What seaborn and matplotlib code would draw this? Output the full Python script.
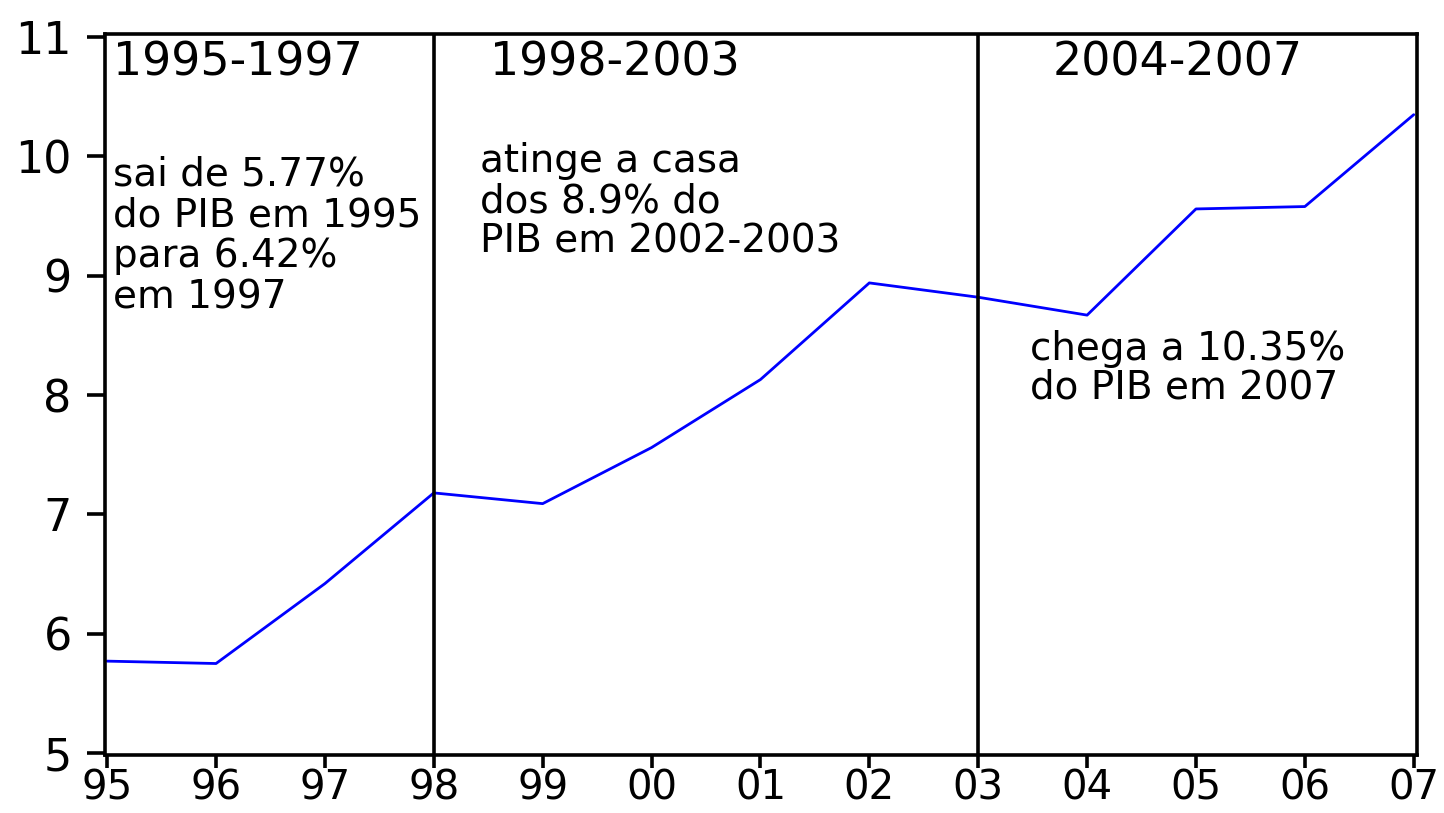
import matplotlib
matplotlib.use("Agg")
import matplotlib.pyplot as plt
import seaborn as sns
import pandas as pd

# ================= DATA =================
YEARS = [1995, 1996, 1997, 1998, 1999, 2000, 2001, 2002, 2003, 2004, 2005, 2006, 2007]
PCT_PIB = [5.77, 5.75, 6.42, 7.18, 7.09, 7.56, 8.13, 8.94, 8.82, 8.67, 9.56, 9.58, 10.35]
X_TICK_LABELS = ["95", "96", "97", "98", "99", "00", "01", "02", "03", "04", "05", "06", "07"]
Y_TICKS = [5, 6, 7, 8, 9, 10, 11]

PERIOD_BREAKS = [1998, 2003]
PERIOD_TITLES = ["1995-1997", "1998-2003", "2004-2007"]
NOTE_1 = ["sai de 5.77%", "do PIB em 1995", "para 6.42%", "em 1997"]
NOTE_2 = ["atinge a casa", "dos 8.9% do", "PIB em 2002-2003"]
NOTE_3 = ["chega a 10.35%", "do PIB em 2007"]
# ========================================

sns.set_style("white")
plt.rcParams["font.family"] = ["DejaVu Sans"]
plt.rcParams["text.color"] = "black"

df = pd.DataFrame({"year": YEARS, "pct": PCT_PIB})

fig = plt.figure(figsize=(14.44, 8.13), dpi=100)
ax = fig.add_axes([0.0727, 0.0713, 0.9086, 0.8867])

sns.lineplot(data=df, x="year", y="pct", ax=ax, color="#0000ff", linewidth=2.0)

for xb in PERIOD_BREAKS:
    ax.axvline(xb, color="black", linewidth=2.6)

ax.set_xlim(1994.98, 2007.03)
ax.set_ylim(4.983, 11.025)
ax.set_xticks(YEARS)
ax.set_xticklabels(X_TICK_LABELS)
ax.set_yticks(Y_TICKS)
ax.set_xlabel("")
ax.set_ylabel("")

for side in ["left", "right", "top", "bottom"]:
    ax.spines[side].set_visible(True)
    ax.spines[side].set_color("black")
    ax.spines[side].set_linewidth(2.6)

ax.tick_params(axis="y", direction="out", length=13, width=2.6,
               pad=11, labelsize=32, left=True, colors="black")
ax.tick_params(axis="x", direction="out", length=9, width=2.6,
               pad=1, labelsize=29, bottom=True, colors="black")

# period titles
title_x = [1996.2, 1999.66, 2004.83]
for tx, title in zip(title_x, PERIOD_TITLES):
    ax.text(tx, 10.68, title, fontsize=33, ha="center", va="baseline")

# annotations, one line at a time
def put_note(lines, x0, y0, step):
    for i, line in enumerate(lines):
        ax.text(x0, y0 - i * step, line, fontsize=28, ha="left", va="baseline")

put_note(NOTE_1, 1995.055, 9.759, 0.344)
put_note(NOTE_2, 1998.42, 9.868, 0.335)
put_note(NOTE_3, 2003.48, 8.293, 0.319)

fig.savefig("out.png", dpi=100)
plt.close(fig)
